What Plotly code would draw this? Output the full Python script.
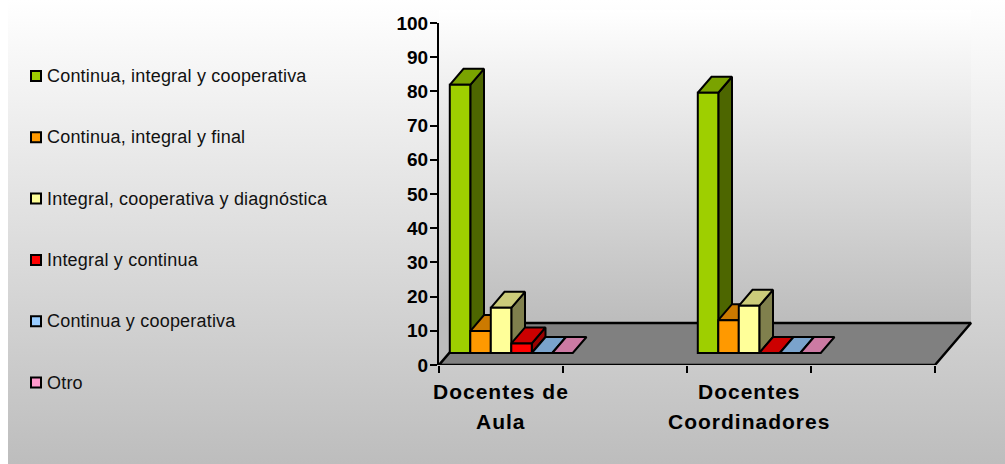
import plotly.graph_objects as go

# ---- data ----
category_lines = [["Docentes de", "Aula"], ["Docentes", "Coordinadores"]]
series_names = [
    "Continua, integral y cooperativa",
    "Continua, integral y final",
    "Integral, cooperativa y diagnóstica",
    "Integral y continua",
    "Continua y cooperativa",
    "Otro",
]
aula_values = [78.4, 6.4, 13.2, 2.8, 0, 0]
coord_values = [76.1, 9.6, 13.8, 0, 0, 0]
y_ticks = [0, 10, 20, 30, 40, 50, 60, 70, 80, 90, 100]
x_ticks = [0, 1, 2, 3, 4]
category_centers = [0.5, 2.5]

front_colors = ["#9ecf00", "#ff9900", "#ffff99", "#ff0000", "#99ccff", "#ff99cc"]
top_colors = ["#7aa300", "#cc7a00", "#cccc7a", "#cc0000", "#7aa3cc", "#cc7aa3"]
side_colors = ["#4d6600", "#804d00", "#80804d", "#990000", "#4d6680", "#804d66"]

# ---- page geometry ----
W, H = 1005, 464
AX_L, AX_B, AX_T = 439, 365, 23
PX_X = 124.0            # px per x unit
PX_Y = (AX_B - AX_T) / 100.0
X_MAX = (W - AX_L) / PX_X
DX = 36 / PX_X          # full floor depth, x units
DY = 42 / PX_Y          # full floor depth, y units
D_FRONT, D_BACK = 12 / 42, 28 / 42
BAR_W = 20.5 / PX_X
FONT = "Liberation Sans, Arial, sans-serif"


def project(x, y, d):
    return x + d * DX, y + d * DY


fig = go.Figure()


def bg_poly(xs, ys, y_start, y_stop, c_top, c_bottom):
    """Gradient panel on the full-page canvas axes (pixel-like units)."""
    fig.add_trace(go.Scatter(
        x=xs, y=ys, mode="lines", line=dict(width=0), fill="toself",
        fillgradient=dict(type="vertical", start=y_start, stop=y_stop,
                          colorscale=[[0, c_top], [1, c_bottom]]),
        xaxis="x", yaxis="y", showlegend=False, hoverinfo="skip"))


TOP_W = 10
FLOOR_Y = AX_B - 42
BACK_X = AX_L + 36
# page background
bg_poly([8, W, W, 8, 8], [0, 0, H, H, 0], 0, H, "#ffffff", "#bdbdbd")
# side wall and back wall
bg_poly([AX_L, BACK_X, BACK_X, AX_L, AX_L], [AX_B, FLOOR_Y, TOP_W, TOP_W, AX_B],
        TOP_W, FLOOR_Y, "#ffffff", "#bcbcbc")
bg_poly([BACK_X, AX_L + 4 * PX_X + 36, AX_L + 4 * PX_X + 36, BACK_X, BACK_X],
        [FLOOR_Y, FLOOR_Y, TOP_W, TOP_W, FLOOR_Y],
        TOP_W, FLOOR_Y, "#ffffff", "#bcbcbc")

# legend, drawn on the canvas axes so that swatch and text sit as close as in the picture
LEG_X, LEG_TEXT_X, LEG_Y0, LEG_STEP = 36, 45, 76, 61.3
for s, name in enumerate(series_names):
    ly = LEG_Y0 + s * LEG_STEP
    fig.add_trace(go.Scatter(
        x=[LEG_X], y=[ly], mode="markers", name=name,
        marker=dict(symbol="square", size=10, color=front_colors[s],
                    line=dict(color="#000000", width=2)),
        xaxis="x", yaxis="y", showlegend=False, hoverinfo="skip"))
    fig.add_annotation(
        x=LEG_TEXT_X, y=ly, xref="x", yref="y", showarrow=False,
        text=f'<span style="letter-spacing:0.2px">{name}</span>',
        xanchor="left", yanchor="middle",
        font=dict(size=18, color="#111111", family=FONT))


def face(points, color, width=2):
    xs = [p[0] for p in points] + [points[0][0]]
    ys = [p[1] for p in points] + [points[0][1]]
    fig.add_trace(go.Scatter(
        x=xs, y=ys, mode="lines", fill="toself", fillcolor=color,
        line=dict(color="#000000", width=width), cliponaxis=False,
        xaxis="x2", yaxis="y2", showlegend=False, hoverinfo="skip"))


# floor
face([project(0, 0, 0), project(4, 0, 0), project(4, 0, 1), project(0, 0, 1)], "#808080", 2.5)

n = len(series_names)
group_vals = [aula_values, coord_values]
for s in range(n):
    for g, c in enumerate(category_centers):
        v = group_vals[g][s]
        x0 = c + (s - n / 2) * BAR_W
        x1 = x0 + BAR_W
        if v > 0:
            face([project(x1, 0, D_FRONT), project(x1, v, D_FRONT),
                  project(x1, v, D_BACK), project(x1, 0, D_BACK)], side_colors[s])
        face([project(x0, v, D_FRONT), project(x1, v, D_FRONT),
              project(x1, v, D_BACK), project(x0, v, D_BACK)], top_colors[s])

# front faces: the real bars
base_y = D_FRONT * DY
front_shift = D_FRONT * DX
for s in range(n):
    xs = [c + (s + 0.5 - n / 2) * BAR_W + front_shift for c in category_centers]
    fig.add_trace(go.Bar(
        x=xs, y=[aula_values[s], coord_values[s]], base=base_y, width=BAR_W,
        name=series_names[s], showlegend=False,
        marker=dict(color=front_colors[s], line=dict(color="#000000", width=2)),
        xaxis="x3", yaxis="y3", cliponaxis=False))

main_xdom = [AX_L / W, 1]
main_ydom = [(H - AX_B) / H, (H - AX_T) / H]
hidden = dict(visible=False, fixedrange=True, automargin=False)

axis_line = dict(showgrid=False, zeroline=False, automargin=False)
fig.update_layout(
    width=W, height=H, autosize=False,
    margin=dict(l=0, r=0, t=0, b=0, pad=0),
    paper_bgcolor="#ffffff", plot_bgcolor="rgba(0,0,0,0)",
    barmode="overlay", showlegend=False,
    font=dict(family=FONT, color="#000000"),
    xaxis=dict(domain=[0, 1], range=[0, W], anchor="y", **hidden),
    yaxis=dict(domain=[0, 1], range=[H, 0], anchor="x", **hidden),
    xaxis2=dict(domain=main_xdom, range=[0, X_MAX], anchor="y2", **hidden),
    yaxis2=dict(domain=main_ydom, range=[0, 100], anchor="x2", **hidden),
    xaxis3=dict(domain=main_xdom, range=[0, X_MAX], anchor="y3",
                tickmode="array", tickvals=x_ticks, showticklabels=False,
                ticks="outside", ticklen=7, tickwidth=2, tickcolor="#000000",
                showline=False, **axis_line),
    yaxis3=dict(domain=main_ydom, range=[0, 100], anchor="x3",
                tickmode="array", tickvals=y_ticks, ticks="outside", ticklen=7,
                tickwidth=2, tickcolor="#000000", showline=True, linewidth=2,
                linecolor="#000000", ticklabelstandoff=-2,
                tickfont=dict(size=19, color="#000000", family=FONT, weight="bold"),
                **axis_line),
)

line_y = [391, 421]
for c, lines in zip(category_centers, category_lines):
    for ly, text in zip(line_y, lines):
        fig.add_annotation(
            x=c, xref="x3", y=1 - ly / H, yref="paper", showarrow=False,
            text=f'<span style="letter-spacing:1px">{text}</span>',
            xanchor="center", yanchor="middle",
            font=dict(size=21, color="#000000", family=FONT, weight="bold"))

fig.write_html("out.html", config={"displayModeBar": False},
               post_script="document.body.style.margin='0';")
